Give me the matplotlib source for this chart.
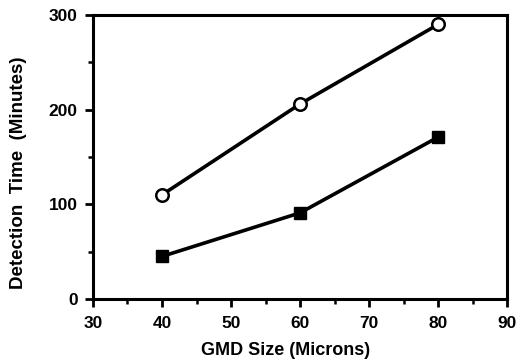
import matplotlib.pyplot as plt
from matplotlib.ticker import MultipleLocator

# GMD size (microns)
gmd_size = [40, 60, 80]
# detection time (minutes)
open_series = [110, 206, 290]
filled_series = [45, 91, 171]

plt.rcParams['font.family'] = ['Liberation Sans', 'DejaVu Sans']
plt.rcParams['font.weight'] = 'bold'

fig = plt.figure(figsize=(5.18, 3.62), dpi=100)
ax = fig.add_axes([0.1795, 0.174, 0.7995, 0.7846])

ax.plot(gmd_size, open_series, color='black', lw=2.6, marker='o', ms=9,
        mfc='white', mec='black', mew=1.8)
ax.plot(gmd_size, filled_series, color='black', lw=2.6, marker='s', ms=9,
        mfc='black', mec='black')

ax.set_xlim(30, 90)
ax.set_ylim(0, 300)
ax.xaxis.set_major_locator(MultipleLocator(10))
ax.xaxis.set_minor_locator(MultipleLocator(5))
ax.yaxis.set_major_locator(MultipleLocator(100))
ax.yaxis.set_minor_locator(MultipleLocator(50))

for s in ax.spines.values():
    s.set_linewidth(2.2)
ax.tick_params(which='major', direction='out', length=6, width=2,
               labelsize=12.5)
ax.tick_params(which='minor', direction='out', length=3.5, width=1.8)
ax.tick_params(axis='x', pad=6)
ax.tick_params(axis='y', pad=5)

ax.set_xlabel('GMD Size (Microns)', fontsize=13, fontweight='bold', va='center')
ax.set_ylabel('Detection  Time  (Minutes)', fontsize=13.5, fontweight='bold',
              va='center')
ax.xaxis.set_label_coords(0.464, -0.18)
ax.yaxis.set_label_coords(-0.181, 0.444)

fig.savefig('out.png', dpi=100)
